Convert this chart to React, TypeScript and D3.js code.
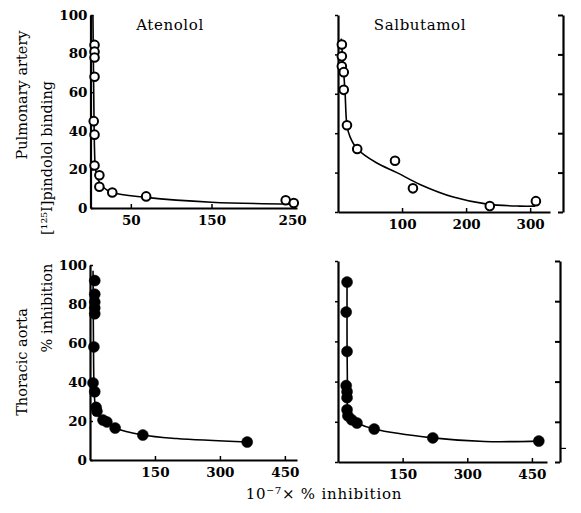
import React, { useEffect, useRef } from 'react';
import * as d3 from 'd3';

type Pt = [number, number];

// [125I]pindolol binding, pulmonary artery (open circles)
const atenololPulmPoints: Pt[] = [
  [5, 84.5], [5, 81], [5, 78], [5, 68], [4, 45], [5, 38], [5, 22],
  [11, 17], [11, 11], [27, 8], [69, 6], [242, 4], [252, 2.6],
];
const atenololPulmFit: Pt[] = [
  [3, 100], [4, 60], [5, 30], [6, 21], [9, 15], [15, 11], [27, 8],
  [69, 5.5], [150, 3], [250, 2],
];
const salbutamolPulmPoints: Pt[] = [
  [6, 85], [6, 79], [6, 74], [9, 71], [9, 62], [14, 44], [30, 32],
  [89, 26], [117, 12], [237, 3], [309, 5.5],
];
const salbutamolPulmFit: Pt[] = [
  [5, 88], [8, 75], [11, 61], [14, 44], [19, 38], [30, 32], [60, 25],
  [92, 20], [128, 14], [180, 7.6], [233, 4], [284, 3], [308, 3],
];

// % inhibition, thoracic aorta (filled circles)
const atenololAortaPoints: Pt[] = [
  [11, 92], [11, 85], [11, 81], [11, 78], [11, 75], [9, 58], [7, 39.5],
  [11, 35], [14, 27], [16, 25], [30, 20.5], [39, 19.5], [58, 16.4],
  [122, 12.8], [363, 9.2],
];
const atenololAortaFit: Pt[] = [
  [7, 97], [8, 60], [9, 40], [11, 30], [14, 25], [25, 21.5], [40, 19],
  [58, 16.4], [122, 12.8], [200, 11], [363, 9.2],
];
const salbutamolAortaPoints: Pt[] = [
  [21, 89.5], [19, 74.6], [21, 55], [19, 38], [21, 35], [21, 32], [21, 26],
  [23, 23], [32, 21], [44, 19.4], [84, 16.4], [220, 12], [466, 10.4],
];
const salbutamolAortaFit: Pt[] = [
  [21, 92], [21, 60], [22, 35], [23, 25], [32, 21], [44, 19.4], [84, 16.4],
  [220, 12], [340, 10.2], [466, 10.4],
];

const yTickValues = [0, 20, 40, 60, 80, 100];
const frameTickValues = [0, 20, 40, 60, 80, 100];
const atenololPulmXTicks = [50, 150, 250];
const salbutamolPulmXTicks = [100, 200, 300];
const aortaXTicks = [150, 300, 450];
const aortaFrameExtraTicks = [7];
const drugTitles = ['Atenolol', 'Salbutamol'];

const serif = '"DejaVu Serif", "Liberation Serif", serif';

const App = () => {
  const containerRef = useRef<HTMLDivElement>(null);

  useEffect(() => {
    if (!containerRef.current) return;
    const container = d3.select(containerRef.current);
    container.selectAll('*').remove();

    const width = 581;
    const height = 513;

    const svg = container.append('svg')
      .attr('width', width)
      .attr('height', height)
      .style('position', 'absolute')
      .style('left', '0px')
      .style('top', '0px')
      .style('background', '#fff');

    const panels = [
      { left: 90.5, right: 297, top: 15, bottom: 208, xMax: 256, points: atenololPulmPoints, fit: atenololPulmFit, filled: false, xTicks: atenololPulmXTicks, yLabels: true, frameX: null as number | null, extra: [] as number[] },
      { left: 338, right: 550, top: 15, bottom: 212, xMax: 331, points: salbutamolPulmPoints, fit: salbutamolPulmFit, filled: false, xTicks: salbutamolPulmXTicks, yLabels: false, frameX: 563, extra: [] as number[] },
      { left: 90, right: 297, top: 265, bottom: 460, xMax: 478, points: atenololAortaPoints, fit: atenololAortaFit, filled: true, xTicks: aortaXTicks, yLabels: true, frameX: null, extra: [] as number[] },
      { left: 338, right: 547, top: 261, bottom: 462, xMax: 485, points: salbutamolAortaPoints, fit: salbutamolAortaFit, filled: true, xTicks: aortaXTicks, yLabels: false, frameX: 560, extra: aortaFrameExtraTicks },
    ];

    panels.forEach(p => {
      const x = d3.scaleLinear().domain([0, p.xMax]).range([p.left, p.right]);
      const y = d3.scaleLinear().domain([0, 100]).range([p.bottom, p.top]);
      const g = svg.append('g');

      // x axis
      const xa = g.append('g')
        .attr('transform', `translate(0,${y(0)})`)
        .call(d3.axisBottom(x).tickValues(p.xTicks).tickSizeInner(-4).tickSizeOuter(0).tickFormat(d3.format('d')));
      xa.select('.domain').attr('stroke-width', 2.2);
      xa.selectAll('.tick line').attr('stroke-width', 1.5);
      xa.selectAll('.tick text')
        .attr('y', 7)
        .style('font-family', serif)
        .style('font-size', '13.5px')
        .style('font-weight', 'bold')
        .attr('fill', '#000');

      // y axis
      const ya = g.append('g')
        .attr('transform', `translate(${x(0)},0)`)
        .call(d3.axisLeft(y).tickValues(yTickValues).tickSizeInner(p.yLabels ? -3 : 3).tickSizeOuter(0)
          .tickFormat(p.yLabels ? d3.format('d') : () => ''));
      ya.select('.domain').attr('stroke-width', 2.2);
      ya.selectAll('.tick line').attr('stroke-width', 1.5);
      ya.selectAll('.tick text')
        .attr('x', -3)
        .style('font-family', serif)
        .style('font-size', '13.5px')
        .style('font-weight', 'bold')
        .attr('fill', '#000');

      // right frame
      if (p.frameX !== null) {
        const fa = g.append('g')
          .attr('transform', `translate(${p.frameX},0)`)
          .call(d3.axisLeft(y).tickValues(frameTickValues).tickSizeInner(5).tickSizeOuter(0).tickFormat(() => ''));
        fa.select('.domain').attr('stroke-width', 2.2);
        fa.selectAll('.tick line').attr('stroke-width', 2);
        if (p.extra.length) {
          g.append('g')
            .attr('transform', `translate(${p.frameX},0)`)
            .call(d3.axisRight(y).tickValues(p.extra).tickSizeInner(6).tickSizeOuter(0).tickFormat(() => ''))
            .call(s => s.select('.domain').remove())
            .selectAll('.tick line').attr('stroke-width', 1.2);
        }
      }

      // fitted curve
      const line = d3.line<Pt>()
        .x(d => x(d[0]))
        .y(d => y(d[1]))
        .curve(d3.curveCatmullRom.alpha(0.5));
      g.append('path')
        .datum(p.fit)
        .attr('fill', 'none')
        .attr('stroke', '#000')
        .attr('stroke-width', 1.6)
        .attr('d', line);

      // data points
      g.selectAll('.pt')
        .data(p.points)
        .join('circle')
        .attr('class', 'pt')
        .attr('cx', d => x(d[0]))
        .attr('cy', d => y(d[1]))
        .attr('r', p.filled ? 5.5 : 4.3)
        .attr('fill', p.filled ? '#000' : '#fff')
        .attr('stroke', '#000')
        .attr('stroke-width', p.filled ? 0.5 : 2);
    });

    // drug titles
    svg.selectAll('.title')
      .data(drugTitles)
      .join('text')
      .attr('class', 'title')
      .attr('x', (d, i) => (i === 0 ? 170 : 420))
      .attr('y', 30)
      .attr('text-anchor', 'middle')
      .style('font-family', serif)
      .style('font-size', '15px')
      .style('letter-spacing', '0.6px')
      .text(d => d);

    // rotated y labels
    const vLabel = (txt: string, cx: number, cy: number) => {
      svg.append('text')
        .attr('transform', `translate(${cx},${cy}) rotate(-90)`)
        .attr('text-anchor', 'middle')
        .attr('dominant-baseline', 'central')
        .style('font-family', serif)
        .style('font-size', '14.5px')
        .text(txt);
    };
    vLabel('Pulmonary artery', 22, 95);
    vLabel('[¹²⁵I]pindolol binding', 47, 158);
    vLabel('Thoracic aorta', 22, 362);
    vLabel('% inhibition', 47, 308);

    // x label
    svg.append('text')
      .attr('x', 324)
      .attr('y', 499)
      .attr('text-anchor', 'middle')
      .style('font-family', serif)
      .style('font-size', '15px')
      .style('letter-spacing', '0.8px')
      .text('10⁻⁷× % inhibition');

    return () => {
      container.selectAll('*').remove();
    };
  }, []);

  return <div ref={containerRef} style={{ width: 581, height: 513 }} />;
};

export default App;
